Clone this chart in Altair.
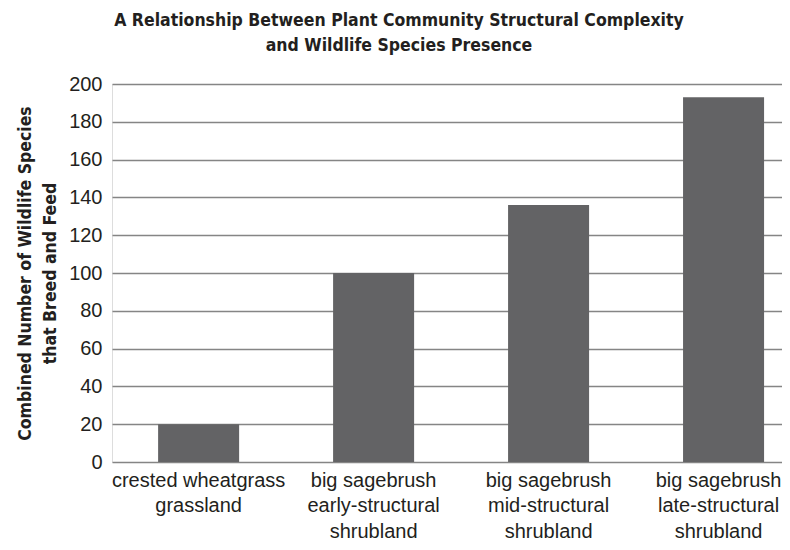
import altair as alt
import pandas as pd

categories = [
    "crested wheatgrass|grassland",
    "big sagebrush|early-structural|shrubland",
    "big sagebrush|mid-structural|shrubland",
    "big sagebrush|late-structural|shrubland",
]
species = [20, 100, 136, 193]
y_ticks = [0, 20, 40, 60, 80, 100, 120, 140, 160, 180, 200]

df = pd.DataFrame({"habitat": categories, "species": species})

LABEL_FONT = "Liberation Sans"
TITLE_FONT = "DejaVu Sans Condensed, Liberation Sans"

chart = (
    alt.Chart(df)
    .mark_bar(color="#636365")
    .encode(
        x=alt.X(
            "habitat:N",
            sort=categories,
            title=None,
            scale=alt.Scale(paddingInner=0.537, paddingOuter=0.183, align=0.72),
            axis=alt.Axis(
                labelExpr="split(datum.label, '|')",
                labelAngle=0,
                labelFont=LABEL_FONT,
                labelFontSize=20,
                labelColor="#231f20",
                labelLineHeight=25.5,
                labelPadding=24,
                labelBaseline="alphabetic",
                labelOffset={"condition": {"test": "datum.index === 1", "value": -5}, "value": 0},
                ticks=False,
                domain=False,
                grid=False,
                labelLimit=300,
            ),
        ),
        y=alt.Y(
            "species:Q",
            scale=alt.Scale(domain=[0, 200], nice=False),
            axis=alt.Axis(
                values=y_ticks,
                title=["Combined Number of Wildlife Species", "that Breed and Feed"],
                titleFont=TITLE_FONT,
                titleFontSize=17.5,
                titleFontWeight="bold",
                titleColor="#231f20",
                titleLineHeight=25,
                titleAngle=-90,
                titleAlign="center",
                titleBaseline="top",
                titleX=-96,
                titleY=189,
                labelFont=LABEL_FONT,
                labelFontSize=20,
                labelColor="#231f20",
                labelPadding=10,
                ticks=False,
                domain=False,
                grid=True,
                gridColor="#858585",
                gridWidth=1.6,
            ),
        ),
    )
    .properties(
        width=670,
        height=378,
        autosize=alt.AutoSizeParams(type="none"),
        padding={"left": 104, "top": 76, "right": 0, "bottom": 80},
        title=alt.TitleParams(
            text=[
                "A Relationship Between Plant Community Structural Complexity",
                "and Wildlife Species Presence",
            ],
            font=TITLE_FONT,
            fontSize=17.5,
            fontWeight="bold",
            color="#231f20",
            anchor="middle",
            dx=-48,
            lineHeight=25,
            offset=20,
        ),
    )
    .configure_view(stroke=None)
    .configure(background="white")
)

chart.save("out.html", embed_options={"renderer": "svg", "actions": False})
